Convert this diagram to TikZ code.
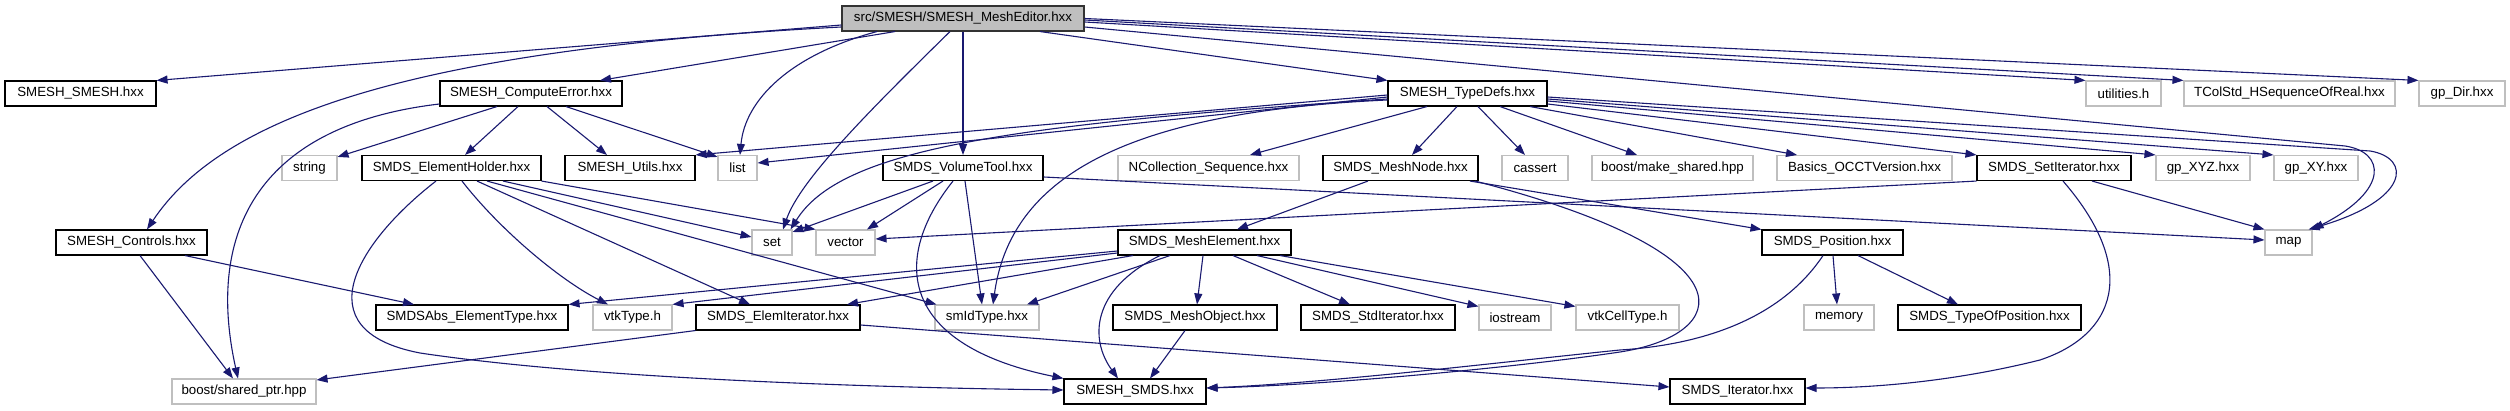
\documentclass[tikz,border=0pt]{standalone}
\usepackage{fontspec}
\setmainfont{Liberation Sans}
\usetikzlibrary{arrows.meta}
\definecolor{edgec}{HTML}{191970}
\definecolor{extc}{HTML}{BFBFBF}
\definecolor{mainfill}{HTML}{BFBFBF}
\begin{document}
\begin{tikzpicture}[x=1pt,y=1pt,
  box/.style={draw=black, fill=white, line width=1.1pt, minimum height=25pt, inner sep=0pt, font=\fontsize{13.3}{16}\selectfont, text=black},
  ext/.style={box, draw=extc},
  mainbox/.style={box, fill=mainfill, draw=black!80},
  dep/.style={draw=edgec, line width=1.1pt, -{Triangle[length=11pt,width=8pt]}},
]
\fill[white] (0,0) rectangle (2510,411);
\useasboundingbox (0,0) rectangle (2510,411);
% nodes
\node[mainbox, minimum width=242pt] (main) at (963,392.5) {src/SMESH/SMESH\_MeshEditor.hxx};
\node[box, minimum width=151pt] (smesh) at (80.5,317.5) {SMESH\_SMESH.hxx};
\node[box, minimum width=182pt] (cerr) at (531,317.5) {SMESH\_ComputeError.hxx};
\node[box, minimum width=159pt] (tdefs) at (1467.5,317.5) {SMESH\_TypeDefs.hxx};
\node[ext, minimum width=75pt] (util) at (2123.5,317.5) {utilities.h};
\node[ext, minimum width=211pt] (tcol) at (2289.5,317.5) {TColStd\_HSequenceOfReal.hxx};
\node[ext, minimum width=86pt] (gpdir) at (2462,317.5) {gp\_Dir.hxx};
\node[ext, minimum width=55pt] (string) at (309.5,243) {string};
\node[box, minimum width=179pt] (eholder) at (451.5,243) {SMDS\_ElementHolder.hxx};
\node[box, minimum width=130pt] (utils) at (630,243) {SMESH\_Utils.hxx};
\node[ext, minimum width=39pt] (list) at (737.5,243) {list};
\node[box, minimum width=160pt] (vtool) at (963,243) {SMDS\_VolumeTool.hxx};
\node[ext, minimum width=181pt] (ncoll) at (1208.5,243) {NCollection\_Sequence.hxx};
\node[box, minimum width=155pt] (mnode) at (1400.5,243) {SMDS\_MeshNode.hxx};
\node[ext, minimum width=66pt] (cassert) at (1535,243) {cassert};
\node[ext, minimum width=161pt] (mkshared) at (1672.5,243) {boost/make\_shared.hpp};
\node[ext, minimum width=175pt] (basics) at (1864.5,243) {Basics\_OCCTVersion.hxx};
\node[box, minimum width=154pt] (setit) at (2054,243) {SMDS\_SetIterator.hxx};
\node[ext, minimum width=94pt] (gpxyz) at (2203,243) {gp\_XYZ.hxx};
\node[ext, minimum width=84pt] (gpxy) at (2316,243) {gp\_XY.hxx};
\node[box, minimum width=151pt] (controls) at (131.5,168.5) {SMESH\_Controls.hxx};
\node[ext, minimum width=40pt] (set) at (772,168.5) {set};
\node[ext, minimum width=59pt] (vector) at (845.5,168.5) {vector};
\node[box, minimum width=173pt] (melem) at (1204.5,168.5) {SMDS\_MeshElement.hxx};
\node[box, minimum width=141pt] (pos) at (1832.5,168.5) {SMDS\_Position.hxx};
\node[ext, minimum width=47pt] (map) at (2288.5,168.5) {map};
\node[box, minimum width=192pt] (abs) at (472,93.5) {SMDSAbs\_ElementType.hxx};
\node[ext, minimum width=79pt] (vtktype) at (632.5,93.5) {vtkType.h};
\node[box, minimum width=164pt] (eiter) at (778,93.5) {SMDS\_ElemIterator.hxx};
\node[ext, minimum width=104pt] (smid) at (987,93.5) {smIdType.hxx};
\node[box, minimum width=164pt] (mobj) at (1195,93.5) {SMDS\_MeshObject.hxx};
\node[box, minimum width=154pt] (stdit) at (1378,93.5) {SMDS\_StdIterator.hxx};
\node[ext, minimum width=72pt] (iostream) at (1515,93.5) {iostream};
\node[ext, minimum width=103pt] (vtkcell) at (1627.5,93.5) {vtkCellType.h};
\node[ext, minimum width=70pt] (memory) at (1839,93.5) {memory};
\node[box, minimum width=183pt] (topos) at (1989.5,93.5) {SMDS\_TypeOfPosition.hxx};
\node[ext, minimum width=144pt] (sptr) at (244,19.5) {boost/shared\_ptr.hpp};
\node[box, minimum width=142pt] (smds) at (1135,19.5) {SMESH\_SMDS.hxx};
\node[box, minimum width=135pt] (iter) at (1737.5,19.5) {SMDS\_Iterator.hxx};
% main
\draw[dep] ([yshift=-6.5]main.west) -- (smesh.north east);
\draw[dep] ([yshift=-8.5]main.west) .. controls (400,361) and (220,291) .. ([xshift=15.5]controls.north);
\draw[dep] ([xshift=-68]main.south) -- ([xshift=69]cerr.north);
\draw[dep] ([xshift=-86]main.south) .. controls (790,356) and (745,311) .. ([xshift=2.5]list.north);
\draw[dep] ([xshift=-13]main.south) .. controls (870,301) and (800,231) .. ([xshift=11]set.north);
\draw[dep] (main.south) -- (vtool.north);
\draw[dep] ([xshift=77]main.south) -- (tdefs.north west);
\draw[dep] ([yshift=-3.5]main.east) -- (util.north west);
\draw[dep] ([yshift=-1.5]main.east) -- (tcol.north west);
\draw[dep] (main.east) -- (gpdir.north west);
\draw[dep] ([yshift=-8.5]main.east) -- (2345,265) .. controls (2385,259) and (2390,221) .. (map.north east);
% TypeDefs
\draw[dep] ([yshift=-3.5]tdefs.west) -- ([yshift=5]list.east);
\draw[dep] ([yshift=-1.5]tdefs.west) -- (utils.north east);
\draw[dep] ([yshift=-5.5]tdefs.west) .. controls (1000,286) and (840,261) .. ([xshift=-2]set.north east);
\draw[dep] ([yshift=-6.5]tdefs.west) .. controls (1120,299) and (1010,231) .. ([xshift=6]smid.north);
\draw[dep] ([xshift=-40.5]tdefs.south) -- ([xshift=41.5]ncoll.north);
\draw[dep] ([xshift=-10.5]tdefs.south) -- ([xshift=11.5]mnode.north);
\draw[dep] ([xshift=10.5]tdefs.south) -- ([xshift=-10]cassert.north);
\draw[dep] ([xshift=32.5]tdefs.south) -- ([xshift=-35.5]mkshared.north);
\draw[dep] ([xshift=62.5]tdefs.south) -- ([xshift=-67.5]basics.north);
\draw[dep] ([yshift=-10.5]tdefs.east) -- (setit.north west);
\draw[dep] ([yshift=-7.5]tdefs.east) -- (gpxyz.north west);
\draw[dep] ([yshift=-5.5]tdefs.east) -- (gpxy.north west);
\draw[dep] ([yshift=-3.5]tdefs.east) -- (2370,260) .. controls (2412,253) and (2410,211) .. ([xshift=-4]map.north east);
% MeshNode
\draw[dep] ([xshift=-32.5]mnode.south) -- ([xshift=32.5]melem.north);
\draw[dep] ([xshift=69.5]mnode.south) -- (pos.north west);
\draw[dep] ([xshift=74.5]mnode.south) .. controls (1760,156) and (1730,76) .. (1620,59) .. controls (1520,44) and (1330,26) .. ([yshift=3.5]smds.east);
% SetIterator
\draw[dep] (setit.south west) -- ([yshift=3.5]vector.east);
\draw[dep] ([xshift=38]setit.south) -- (map.north west);
\draw[dep] ([xshift=9]setit.south) .. controls (2140,141) and (2115,76) .. (2040,51) .. controls (1960,31) and (1880,23) .. ([yshift=3.5]iter.east);
% VolumeTool
\draw[dep] ([xshift=-30]vtool.south) -- ([yshift=10.5]set.east);
\draw[dep] ([xshift=-20]vtool.south) -- ([xshift=21.5]vector.north);
\draw[dep] ([xshift=2]vtool.south) -- ([xshift=-5]smid.north);
\draw[dep] ([xshift=-10]vtool.south) .. controls (890,151) and (900,66) .. (smds.north west);
\draw[dep] ([yshift=-9]vtool.east) -- ([yshift=2.5]map.west);
% ElementHolder
\draw[dep] ([xshift=-15.5]eholder.south) .. controls (360,171) and (300,81) .. (420,58) .. controls (600,31) and (900,23) .. ([yshift=1.5]smds.west);
\draw[dep] ([xshift=10.5]eholder.south) .. controls (500,181) and (560,131) .. ([xshift=-24.5]vtktype.north);
\draw[dep] ([xshift=25.5]eholder.south) -- ([xshift=-28]eiter.north);
\draw[dep] ([xshift=35.5]eholder.south) -- ([xshift=2]smid.north west);
\draw[dep] ([xshift=51.5]eholder.south) -- ([yshift=5.5]set.west);
\draw[dep] (eholder.south east) -- (vector.north west);
% ComputeError
\draw[dep] ([yshift=-10.5]cerr.west) .. controls (260,286) and (205,181) .. ([xshift=-6]sptr.north);
\draw[dep] ([xshift=-34]cerr.south) -- ([yshift=-2]string.north east);
\draw[dep] ([xshift=-13]cerr.south) -- ([xshift=13.5]eholder.north);
\draw[dep] ([xshift=16]cerr.south) -- ([xshift=-23]utils.north);
\draw[dep] ([xshift=35]cerr.south) -- ([yshift=-2]list.north west);
% Controls
\draw[dep] ([xshift=8.5]controls.south) -- ([xshift=-11]sptr.north);
\draw[dep] ([xshift=53.5]controls.south) -- ([xshift=-58]abs.north);
% MeshElement
\draw[dep] ([yshift=-8.5]melem.west) -- (abs.north east);
\draw[dep] ([yshift=-10.5]melem.west) -- (vtktype.north east);
\draw[dep] ([xshift=-71.5]melem.south) -- ([xshift=69]eiter.north);
\draw[dep] ([xshift=-34.5]melem.south) -- ([xshift=40]smid.north);
\draw[dep] ([xshift=-44.5]melem.south) .. controls (1090,121) and (1090,71) .. ([xshift=-17]smds.north);
\draw[dep] ([xshift=-1.5]melem.south) -- ([xshift=2]mobj.north);
\draw[dep] ([xshift=28.5]melem.south) -- ([xshift=-28]stdit.north);
\draw[dep] ([xshift=52.5]melem.south) -- ([yshift=-2]iostream.north west);
\draw[dep] ([xshift=75.5]melem.south) -- ([yshift=-2]vtkcell.north west);
% MeshObject
\draw[dep] ([xshift=-10]mobj.south) -- ([xshift=15]smds.north);
% Position
\draw[dep] ([xshift=-9.5]pos.south) .. controls (1780,91) and (1700,66) .. (1620,61) .. controls (1520,51) and (1330,28) .. ([yshift=3.5]smds.east);
\draw[dep] ([xshift=0.5]pos.south) -- ([xshift=-2]memory.north);
\draw[dep] ([xshift=25.5]pos.south) -- ([xshift=-31.5]topos.north);
% ElemIterator
\draw[dep] (eiter.south west) -- ([yshift=11.5]sptr.east);
\draw[dep] ([yshift=-7.5]eiter.east) -- ([yshift=4.5]iter.west);
\end{tikzpicture}
\end{document}
